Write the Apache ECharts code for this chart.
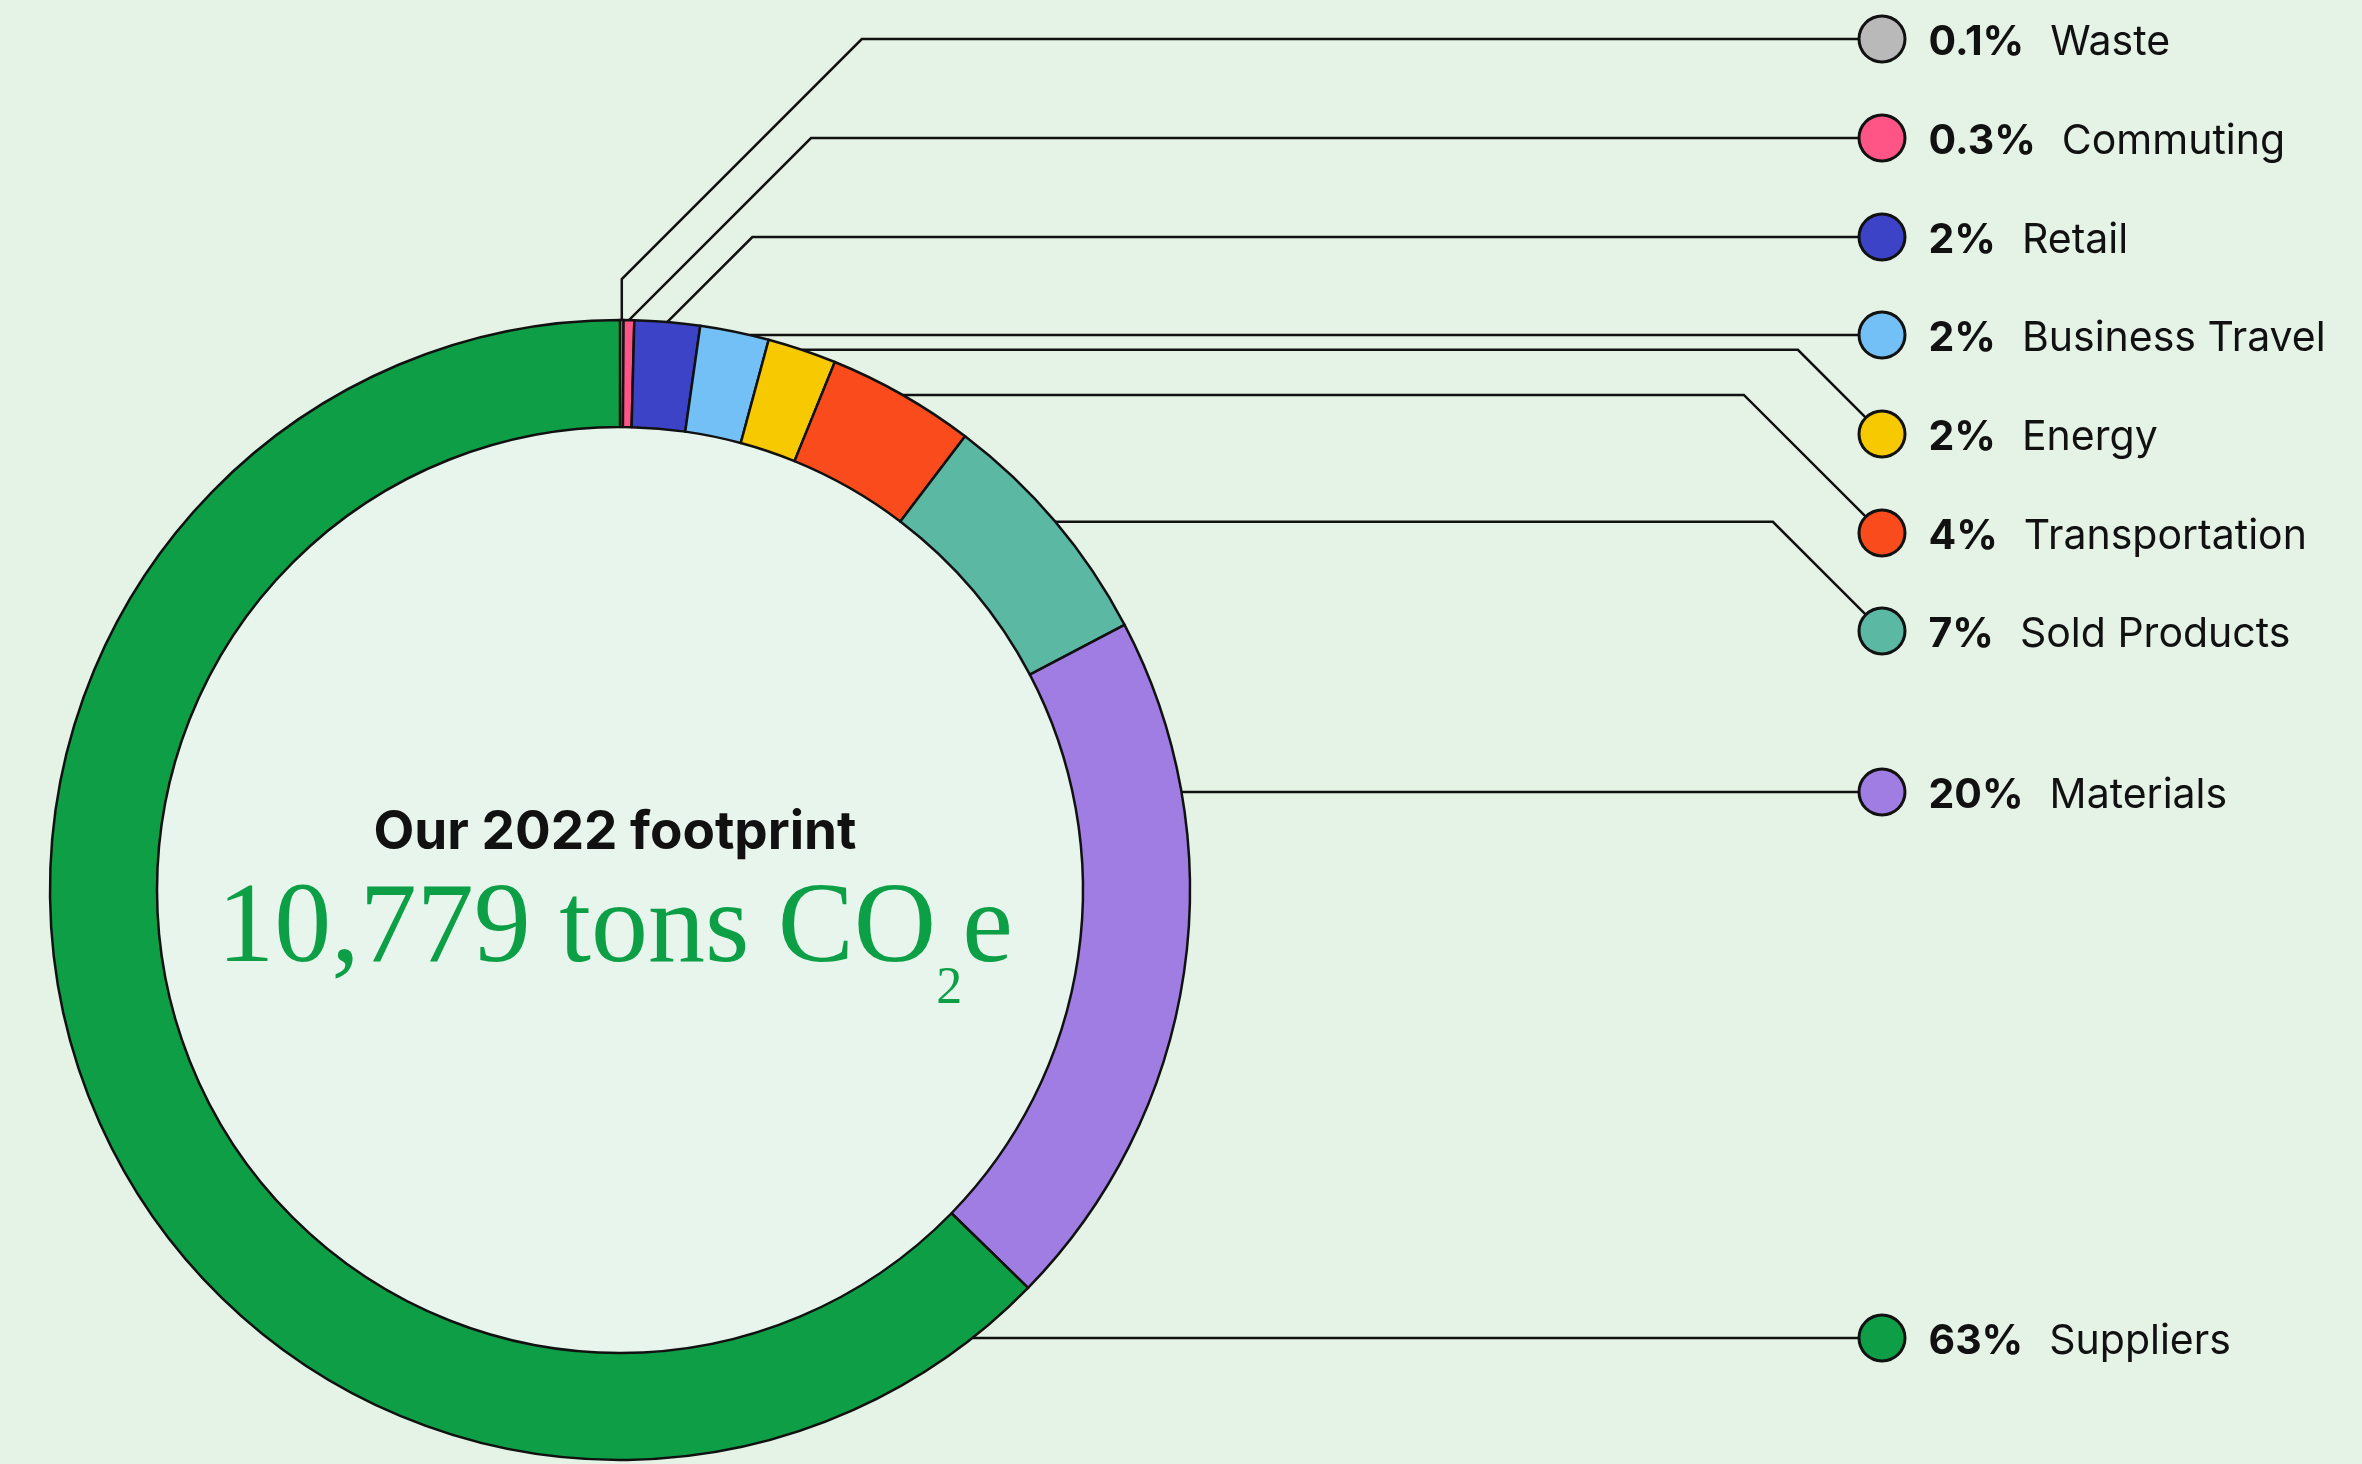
<!DOCTYPE html>
<html>
<head>
<meta charset="utf-8">
<title>Our 2022 footprint</title>
<script src="https://cdn.jsdelivr.net/npm/echarts@6/dist/echarts.min.js"></script>
<style>
  html, body { margin: 0; padding: 0; background: #e4f3e5; }
  #main { width: 2362px; height: 1464px; }
</style>
</head>
<body>
<div id="main"></div>
<script>
// share of the footprint per source, in percent
const categories = ['Waste', 'Commuting', 'Retail', 'Business Travel', 'Energy', 'Transportation', 'Sold Products', 'Materials', 'Suppliers'];
const shares = [0.1, 0.3, 1.85, 1.95, 1.95, 4.2, 6.95, 20.0, 62.7];
const shareLabels = ['0.1%', '0.3%', '2%', '2%', '2%', '4%', '7%', '20%', '63%'];
const colors = ['#b9b9b9', '#ff5486', '#3c43c6', '#73c0f6', '#f7c900', '#f94b1b', '#5bb8a2', '#a07de2', '#0e9f46'];
const totalTons = '10,779';

// layout
const cx = 620, cy = 890, R = 570, r0 = 463;
const dotX = 1882, dotR = 21.5;
const slotY = [39, 138, 237, 335, 434, 533, 631, 792, 1338];
// how each leader line runs: up = diagonal first, down = diagonal last, flat = straight across
const leaderKind = ['up', 'up', 'up', 'flat', 'down', 'down', 'down', 'flat', 'flat'];
const leaderStub = [41, 0, 0, 0, 0, 0, 0, 0, 0];

const total = shares.reduce((a, b) => a + b, 0);

function leader(i) {
  let before = 0;
  for (let k = 0; k < i; k++) before += shares[k];
  const a = (before + shares[i] / 2) / total * Math.PI * 2;
  const sx = cx + R * Math.sin(a), sy = cy - R * Math.cos(a);
  const ty = slotY[i];
  const edge = dotR + 1.5;
  if (leaderKind[i] === 'flat') {
    const dy = ty - cy;
    return [[cx + Math.sqrt(R * R - dy * dy), ty], [dotX - edge, ty]];
  }
  if (leaderKind[i] === 'up') {
    const yb = sy - leaderStub[i];
    return [[sx, sy], [sx, yb], [sx + (yb - ty), ty], [dotX - edge, ty]];
  }
  const d = edge * Math.SQRT1_2;
  return [[sx, sy], [dotX - (ty - sy), sy], [dotX - d, ty - d]];
}

function richFor(c) {
  return {
    dot: { width: 43, height: 43, borderRadius: 21.5, backgroundColor: c, borderColor: '#111', borderWidth: 3 },
    pct: { fontFamily: 'Inter', fontWeight: 700, fontSize: 41, color: '#111', padding: [8, 0, 0, 25] },
    name: { fontFamily: 'Inter', fontWeight: 400, fontSize: 41, color: '#111', padding: [8, 0, 0, 26] }
  };
}

const pieData = categories.map(function (name, i) {
  return {
    name: name,
    value: shares[i],
    itemStyle: { color: colors[i] },
    label: {
      formatter: '{dot|}{pct|' + shareLabels[i] + '}{name|' + name + '}',
      rich: richFor(colors[i])
    }
  };
});

const chart = echarts.init(document.getElementById('main'));

const option = {
  backgroundColor: '#e4f3e5',
  animation: false,
  graphic: [
    { type: 'circle', silent: true, z: -1, shape: { cx: cx, cy: cy, r: r0 }, style: { fill: '#e7f5ec' } },
    {
      type: 'text', silent: true, x: 615, y: 833,
      style: { text: 'Our 2022 footprint', fontFamily: 'Inter', fontWeight: 700, fontSize: 53, fill: '#111', align: 'center', verticalAlign: 'middle' }
    },
    {
      type: 'text', silent: true, x: 615, y: 931,
      style: {
        text: '{v|' + totalTons + ' tons CO}{s|2}{v|e}',
        align: 'center',
        verticalAlign: 'middle',
        rich: {
          v: { fontFamily: 'Liberation Serif', fontSize: 114, lineHeight: 120, fill: '#0d9f46' },
          s: { fontFamily: 'Liberation Serif', fontSize: 52, lineHeight: 48, fill: '#0d9f46', padding: [116, 0, 0, 0] }
        }
      }
    }
  ],
  series: [{
    type: 'pie',
    center: [cx, cy],
    radius: [r0, R],
    startAngle: 90,
    clockwise: true,
    avoidLabelOverlap: false,
    emphasis: { disabled: true },
    itemStyle: { borderColor: '#111', borderWidth: 2.5 },
    label: { show: true, position: 'outside' },
    labelLine: { show: true, smooth: false, lineStyle: { color: '#111', width: 2.5 } },
    labelLayout: function (params) {
      const i = params.dataIndex;
      return {
        x: dotX - dotR,
        y: slotY[i],
        align: 'left',
        verticalAlign: 'middle',
        labelLinePoints: leader(i)
      };
    },
    data: pieData
  }]
};

chart.setOption(option);
</script>
</body>
</html>
